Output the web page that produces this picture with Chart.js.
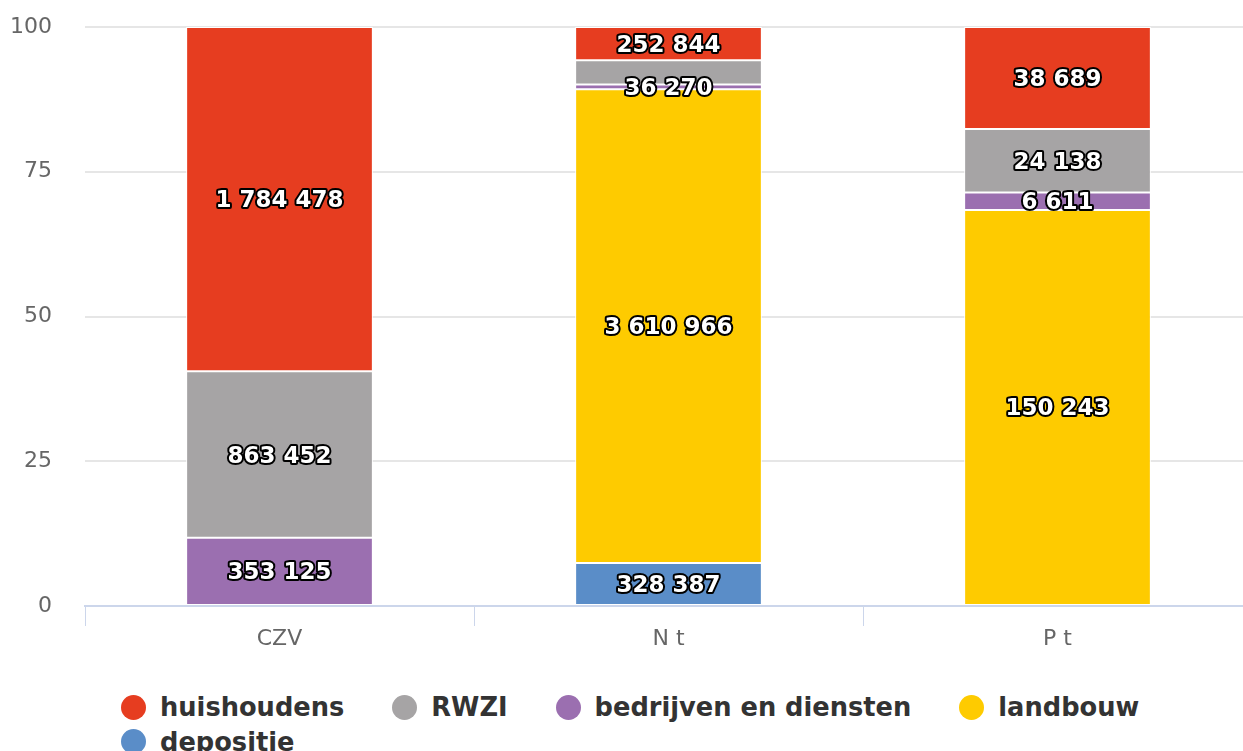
<!DOCTYPE html>
<html>
<head>
<meta charset="utf-8">
<script src="https://cdn.jsdelivr.net/npm/chart.js@4"></script>
<style>
  html, body { margin: 0; padding: 0; background: #fff; overflow: hidden; width: 1243px; height: 751px; }
  #wrap { position: relative; width: 1262px; height: 751px; }
  #legenda { position: absolute; left: 121px; top: 691px; width: 1090px; font: bold 25.7px "DejaVu Sans", sans-serif; color: #333; }
  .item { display: inline-flex; align-items: center; height: 32px; margin-right: 48px; white-space: nowrap; }
  .bol { width: 25px; height: 25px; border-radius: 50%; margin-right: 14px; }
</style>
</head>
<body>
<div id="wrap">
  <canvas id="grafiek" width="1262" height="660"></canvas>
  <div id="legenda"></div>
</div>
<script>
// Categorieën en waarden per bron
const categorieen = ['CZV', 'N t', 'P t'];
const huishoudens = [1784478, 252844, 38689];
const rwzi = [863452, 185500, 24138];
const bedrijven = [353125, 36270, 6611];
const landbouw = [0, 3610966, 150243];
const depositie = [0, 328387, 0];
const yTicks = [0, 25, 50, 75, 100];

const reeksen = [
  { naam: 'huishoudens', waarden: huishoudens, kleur: '#e63d20' },
  { naam: 'RWZI', waarden: rwzi, kleur: '#a6a4a5' },
  { naam: 'bedrijven en diensten', waarden: bedrijven, kleur: '#9b6fb0' },
  { naam: 'landbouw', waarden: landbouw, kleur: '#fecb00' },
  { naam: 'depositie', waarden: depositie, kleur: '#5a8dc8' }
];

// totalen per categorie voor procentuele stapeling
const totalen = categorieen.map((c, i) => reeksen.reduce((s, r) => s + r.waarden[i], 0));

const formatteer = v => String(v).replace(/\B(?=(\d{3})+(?!\d))/g, ' ');

// eerste reeks bovenaan: dus omgekeerd stapelen
const gestapeld = reeksen.slice().reverse();

// waarden als labels in de balken, met overlapcontrole
const labelPlugin = {
  id: 'labels',
  afterDatasetsDraw(chart) {
    const ctx = chart.ctx;
    ctx.save();
    ctx.font = 'bold 23px "DejaVu Sans", sans-serif';
    ctx.textAlign = 'center';
    ctx.textBaseline = 'middle';
    ctx.lineJoin = 'round';
    const geplaatst = [];
    chart.data.datasets.forEach((ds, d) => {
      const meta = chart.getDatasetMeta(d);
      meta.data.forEach((bar, i) => {
        const ruw = gestapeld[d].waarden[i];
        if (!ruw) return;
        const tekst = formatteer(ruw);
        const y = (bar.y + bar.base) / 2;
        const b = ctx.measureText(tekst).width;
        const box = { x1: bar.x - b / 2, x2: bar.x + b / 2, y1: y - 13, y2: y + 13 };
        const botst = geplaatst.some(o => box.x1 < o.x2 && box.x2 > o.x1 && box.y1 < o.y2 && box.y2 > o.y1);
        if (botst) return;
        geplaatst.push(box);
        ctx.strokeStyle = '#000';
        ctx.lineWidth = 4;
        ctx.strokeText(tekst, bar.x, y + 2);
        ctx.fillStyle = '#fff';
        ctx.fillText(tekst, bar.x, y + 2);
      });
    });
    ctx.restore();
  }
};

const ctx = document.getElementById('grafiek').getContext('2d');
const grafiek = new Chart(ctx, {
  type: 'bar',
  data: {
    labels: categorieen,
    datasets: gestapeld.map(r => ({
      label: r.naam,
      data: r.waarden.map((v, i) => v ? v / totalen[i] * 100 : null),
      backgroundColor: r.kleur,
      borderColor: '#ffffff',
      borderWidth: 1,
      borderSkipped: false,
      categoryPercentage: 1,
      barPercentage: 0.48
    }))
  },
  options: {
    responsive: false,
    animation: false,
    layout: { padding: { top: 27, right: 10, left: 0, bottom: 0 } },
    plugins: { legend: { display: false }, tooltip: { enabled: false } },
    scales: {
      x: {
        stacked: true,
        afterFit: s => { s.height = 54; },
        grid: { drawOnChartArea: false, drawTicks: true, tickLength: 20, color: '#ccd6eb', lineWidth: 1 },
        border: { color: '#ccd6eb', width: 2 },
        ticks: { color: '#666', font: { family: 'DejaVu Sans', size: 22 }, padding: 0 }
      },
      y: {
        stacked: true,
        min: 0,
        max: 100,
        afterFit: s => { s.width = 85; s.paddingTop = 0; s.paddingBottom = 0; },
        afterBuildTicks: s => { s.ticks = yTicks.map(v => ({ value: v })); },
        grid: { color: '#e6e6e6', lineWidth: 2, drawTicks: false },
        border: { display: false },
        ticks: { color: '#666', font: { family: 'DejaVu Sans', size: 22 }, padding: 33 }
      }
    }
  },
  plugins: [labelPlugin]
});

// legenda in HTML: regels links uitgelijnd zoals in het origineel
const legenda = document.getElementById('legenda');
reeksen.forEach(r => {
  const item = document.createElement('span');
  item.className = 'item';
  item.innerHTML = '<span class="bol" style="background:' + r.kleur + '"></span>' + r.naam;
  legenda.appendChild(item);
});
</script>
</body>
</html>
